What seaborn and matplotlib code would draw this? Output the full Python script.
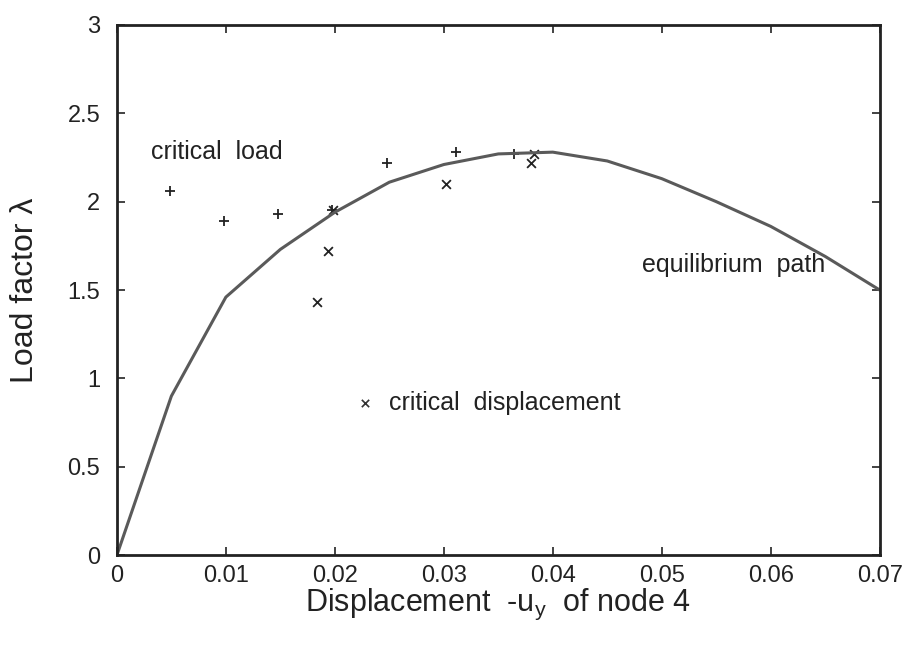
import matplotlib
matplotlib.use("Agg")
import matplotlib.pyplot as plt
import seaborn as sns
import pandas as pd

# Equilibrium path
path_u = [0.0, 0.005, 0.010, 0.015, 0.020, 0.025, 0.030, 0.035, 0.040,
          0.045, 0.050, 0.055, 0.060, 0.065, 0.070]
path_lam = [0.0, 0.90, 1.46, 1.73, 1.94, 2.11, 2.21, 2.27, 2.28,
            2.23, 2.13, 2.00, 1.86, 1.69, 1.50]

# Critical load points (+)
load_u = [0.0049, 0.0098, 0.0148, 0.0197, 0.0248, 0.0311, 0.0364]
load_lam = [2.06, 1.89, 1.93, 1.95, 2.22, 2.28, 2.27]

# Critical displacement points (x)
disp_u = [0.0184, 0.0194, 0.0198, 0.0302, 0.0380, 0.0383]
disp_lam = [1.43, 1.72, 1.95, 2.10, 2.22, 2.27]

x_ticks = [0, 0.01, 0.02, 0.03, 0.04, 0.05, 0.06, 0.07]
x_tick_labels = ["0", "0.01", "0.02", "0.03", "0.04", "0.05", "0.06", "0.07"]
y_ticks = [0, 0.5, 1, 1.5, 2, 2.5, 3]
y_tick_labels = ["0", "0.5", "1", "1.5", "2", "2.5", "3"]

sns.set_style("ticks")
plt.rcParams['font.family'] = ['Liberation Sans', 'DejaVu Sans']

fig = plt.figure(figsize=(9.06, 6.54), dpi=100)
ax = fig.add_axes([0.129, 0.151, 0.842, 0.811])

df_path = pd.DataFrame({"u": path_u, "lam": path_lam})
df_load = pd.DataFrame({"u": load_u, "lam": load_lam})
df_disp = pd.DataFrame({"u": disp_u, "lam": disp_lam})

sns.lineplot(data=df_path, x="u", y="lam", ax=ax, color="#5a5a5a",
             linewidth=2.2, sort=False)
sns.scatterplot(data=df_load, x="u", y="lam", ax=ax, marker="+",
                color="#222222", s=45, linewidth=1.3)
sns.scatterplot(data=df_disp, x="u", y="lam", ax=ax, marker="x",
                color="#222222", s=40, linewidth=1.3)

# legend-like marker for critical displacement
sns.scatterplot(x=[0.0228], y=[0.86], ax=ax, marker="x", color="#333333",
                s=28, linewidth=1.2)

ax.text(0.0031, 2.28, "critical  load", fontsize=18, va="center", ha="left", color="#222222")
ax.text(0.0250, 0.86, "critical  displacement", fontsize=18, va="center", ha="left", color="#222222")
ax.text(0.0482, 1.64, "equilibrium  path", fontsize=18, va="center", ha="left", color="#222222")

ax.set_xlim(0, 0.07)
ax.set_ylim(0, 3)
ax.set_xticks(x_ticks)
ax.set_xticklabels(x_tick_labels)
ax.set_yticks(y_ticks)
ax.set_yticklabels(y_tick_labels)
ax.tick_params(direction="in", length=6, width=1.2, top=True, right=True,
               labelsize=17, colors="#222222")
ax.tick_params(axis="y", pad=12)
ax.tick_params(axis="x", pad=7)
for sp in ax.spines.values():
    sp.set_visible(True)
    sp.set_linewidth(2.0)
    sp.set_color("#222222")

ax.set_xlabel(r"Displacement  -u$_\mathregular{y}$  of node 4", fontsize=22, color="#222222", labelpad=0)
ax.set_ylabel("Load factor λ", fontsize=23, color="#222222", labelpad=20)

fig.savefig("out.png", dpi=100)
